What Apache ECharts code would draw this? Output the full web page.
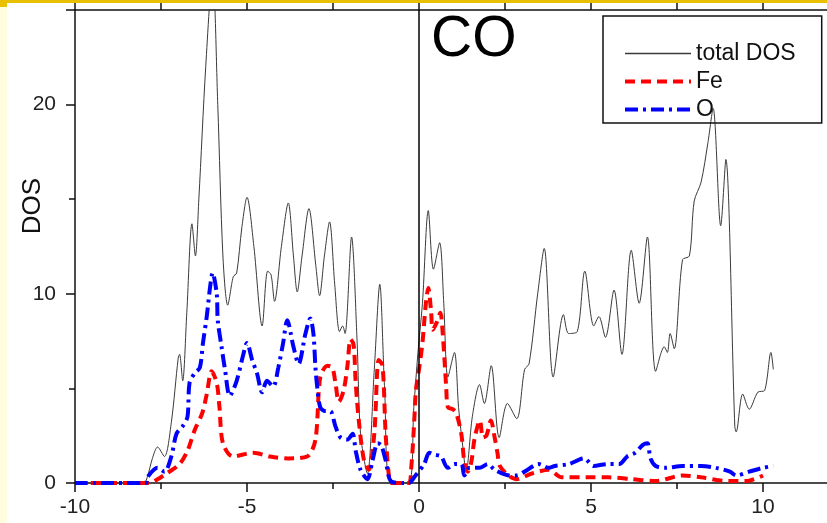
<!DOCTYPE html>
<html>
<head>
<meta charset="utf-8">
<script src="https://cdn.jsdelivr.net/npm/echarts@6/dist/echarts.min.js"></script>
<style>
html, body { margin: 0; padding: 0; background: #fff; }
#main { width: 827px; height: 523px; }
</style>
</head>
<body>
<div id="main"></div>
<script>
// energy (eV) vs DOS
const totalDos = [
    [-10, 0], [-8.0, 0], [-7.9, 0.3], [-7.75, 1.3], [-7.6, 1.9], [-7.4, 1.4], [-7.2, 3.2],
    [-7.0, 6.6], [-6.96, 6.8], [-6.87, 5.4], [-6.75, 9], [-6.6, 13.7], [-6.5, 12.0],
    [-6.4, 15], [-6.2, 22], [-6.0, 27], [-5.85, 20], [-5.7, 12], [-5.56, 9.4], [-5.4, 10.9],
    [-5.3, 11.1], [-5.15, 13.5], [-5.0, 15.1], [-4.8, 12.5], [-4.56, 8.3], [-4.4, 11.2],
    [-4.3, 11.0], [-4.2, 9.6], [-4.0, 12.5], [-3.8, 14.8], [-3.65, 12], [-3.54, 10.1],
    [-3.4, 12], [-3.2, 14.5], [-3.0, 11.5], [-2.89, 9.9], [-2.75, 12], [-2.6, 13.8],
    [-2.45, 10.5], [-2.31, 8.0], [-2.22, 8.3], [-2.15, 7.9], [-1.96, 13.0], [-1.8, 7.5],
    [-1.7, 2.6], [-1.5, 0.5], [-1.3, 6], [-1.14, 10.5], [-1.0, 5], [-0.82, 0], [-0.3, 0],
    [-0.15, 4], [-0.03, 6.9], [0.1, 9.5], [0.27, 14.4], [0.42, 11.3], [0.6, 12.7],
    [0.72, 9.5], [0.84, 5.6], [1.03, 6.9], [1.15, 4], [1.28, 1.8], [1.37, 0.6], [1.55, 3.5],
    [1.76, 5.2], [1.9, 4.2], [2.1, 6.2], [2.33, 2.4], [2.57, 4.2], [2.84, 3.4], [3.07, 6.0],
    [3.2, 6.3], [3.45, 10], [3.64, 12.4], [3.9, 5.6], [4.2, 8.9], [4.35, 7.9], [4.6, 8.0],
    [4.82, 11.2], [5.08, 8.3], [5.23, 8.8], [5.42, 7.7], [5.67, 10.2], [5.9, 6.8],
    [6.17, 12.3], [6.4, 9.5], [6.64, 13.0], [6.88, 5.9], [7.13, 7.2], [7.22, 6.9],
    [7.3, 7.9], [7.42, 7.1], [7.66, 11.8], [7.86, 12.0], [8.0, 14.9], [8.2, 15.9],
    [8.4, 18], [8.55, 19.8], [8.77, 13.6], [8.92, 17.1], [9.18, 3.0], [9.22, 2.7],
    [9.41, 4.7], [9.6, 3.9], [9.85, 4.8], [10.05, 4.9], [10.23, 6.9], [10.3, 6.0]
];
const feDos = [
    [-10, 0], [-7.85, 0], [-7.6, 0.2], [-7.34, 0.5], [-6.96, 1.0], [-6.73, 1.7], [-6.52, 2.8],
    [-6.3, 3.7], [-6.17, 4.7], [-6.03, 5.9], [-5.88, 5.3], [-5.8, 4.0], [-5.7, 2.1],
    [-5.41, 1.4], [-4.82, 1.6], [-4.33, 1.4], [-3.8, 1.3], [-3.25, 1.4], [-3.01, 2.3],
    [-2.87, 5.6], [-2.66, 6.2], [-2.52, 6.1], [-2.43, 5.3], [-2.33, 4.3], [-2.19, 4.9],
    [-2.08, 6.2], [-1.99, 7.6], [-1.9, 7.3], [-1.84, 5.3], [-1.75, 3.3], [-1.6, 1.2],
    [-1.46, 0.7], [-1.3, 2.6], [-1.17, 6.5], [-1.06, 6.2], [-0.97, 2.6], [-0.87, 0.3],
    [-0.8, 0], [-0.3, 0], [-0.23, 0.7], [-0.14, 3.2], [-0.09, 4.9], [0, 6.0], [0.1, 7.4],
    [0.2, 9.5], [0.27, 10.3], [0.35, 9.1], [0.4, 8.1], [0.52, 8.5], [0.62, 9.0], [0.69, 7.9],
    [0.79, 5.1], [0.84, 4.0], [0.98, 3.9], [1.08, 3.7], [1.23, 2.6], [1.32, 1.1], [1.42, 0.6],
    [1.52, 1.1], [1.62, 2.4], [1.77, 3.3], [1.86, 2.4], [1.96, 2.5], [2.09, 3.3], [2.2, 2.4],
    [2.28, 1.6], [2.35, 0.9], [2.6, 0.4], [2.84, 0.2], [3.28, 0.5], [3.77, 0.7], [4.15, 0.3],
    [4.94, 0.3], [5.5, 0.3], [6.2, 0.2], [6.88, 0.1], [7.66, 0.4], [8.2, 0.3], [9.0, 0.1],
    [9.5, 0.1], [10.0, 0.4]
];
const oDos = [
    [-10, 0], [-7.95, 0], [-7.9, 0.3], [-7.6, 0.8], [-7.4, 0.6], [-7.2, 1.4], [-7.05, 2.6],
    [-6.87, 3.0], [-6.73, 3.5], [-6.67, 5.3], [-6.52, 5.8], [-6.37, 6.1], [-6.28, 7.4],
    [-6.17, 8.8], [-6.07, 10.4], [-6.0, 11.1], [-5.88, 10.0], [-5.85, 8.6], [-5.74, 7.2],
    [-5.64, 6.0], [-5.5, 4.6], [-5.3, 5.4], [-5.12, 6.7], [-5.0, 7.4], [-4.85, 6.5],
    [-4.71, 5.8], [-4.56, 4.8], [-4.42, 5.4], [-4.24, 5.1], [-4.09, 6.1], [-3.95, 7.4],
    [-3.83, 8.6], [-3.65, 7.2], [-3.5, 6.3], [-3.3, 7.9], [-3.16, 8.7], [-3.07, 7.9],
    [-3.01, 6.1], [-2.96, 5.1], [-2.87, 4.0], [-2.72, 3.8], [-2.58, 3.8], [-2.43, 3.0],
    [-2.28, 2.4], [-2.08, 2.3], [-1.93, 2.6], [-1.84, 1.7], [-1.7, 0.7], [-1.5, 0.2],
    [-1.35, 1.2], [-1.2, 2.1], [-1.1, 2.0], [-0.97, 1.2], [-0.82, 0.1], [-0.5, 0], [-0.3, 0],
    [-0.1, 0.4], [0.15, 1.0], [0.3, 1.6], [0.44, 1.5], [0.64, 1.4], [0.84, 0.8], [1.03, 1.0],
    [1.23, 1.0], [1.32, 0.4], [1.47, 0.8], [1.76, 0.8], [2.0, 1.0], [2.2, 0.7], [2.64, 0.4],
    [2.84, 0.4], [3.07, 0.6], [3.48, 1.0], [3.77, 0.8], [3.95, 0.9], [4.35, 1.0], [4.8, 1.3],
    [5.08, 0.9], [5.47, 1.0], [5.82, 1.0], [6.05, 1.4], [6.29, 1.6], [6.5, 2.0], [6.64, 2.1],
    [6.73, 1.3], [6.88, 0.9], [7.16, 0.8], [7.66, 0.9], [8.2, 0.9], [8.63, 0.8], [9.04, 0.6],
    [9.22, 0.4], [9.6, 0.6], [10.0, 0.8], [10.3, 0.9]
];
const xTicks = [-10, -5, 0, 5, 10];
const yTicks = [0, 10, 20];

let myChart = echarts.init(document.getElementById('main'), null, { renderer: 'canvas' });
const font = 'Liberation Sans, Arial, sans-serif';
const axisColor = '#111';
const hideSymbol = { opacity: 0 };

let option = {
    animation: false,
    backgroundColor: '#fff',
    textStyle: { fontFamily: font },
    // the frame runs past the right edge of the picture
    grid: { left: 75, width: 774, top: 10, height: 473, outerBoundsMode: 'none' },
    legend: {
        orient: 'vertical',
        left: 603,
        top: 16,
        selectedMode: false,
        borderColor: '#111',
        borderWidth: 1.5,
        padding: [26, 26, 2, 20],
        itemWidth: 66,
        itemHeight: 20,
        itemGap: 5,
        textStyle: { fontSize: 23, color: '#111', fontFamily: font, lineHeight: 20 },
        data: [
            { name: 'total DOS', lineStyle: { width: 1.5 }, itemStyle: hideSymbol },
            { name: 'Fe', lineStyle: { width: 4 }, itemStyle: hideSymbol },
            { name: 'O', lineStyle: { width: 4 }, itemStyle: hideSymbol }
        ]
    },
    xAxis: [
        {
            type: 'value', position: 'bottom', min: -10, max: 12.5, interval: 5,
            axisLine: { onZero: false, lineStyle: { color: axisColor, width: 1.5 } },
            axisTick: { length: 9, lineStyle: { color: axisColor, width: 1.5 } },
            minorTick: { show: true, splitNumber: 2, length: 6, lineStyle: { color: axisColor, width: 1.5 } },
            axisLabel: {
                fontSize: 21, color: '#222', margin: 14,
                formatter: v => xTicks.indexOf(v) >= 0 ? String(v) : ''
            },
            splitLine: { show: false }
        },
        {
            type: 'value', position: 'top', min: -10, max: 12.5, interval: 2.5,
            axisLine: { onZero: false, lineStyle: { color: axisColor, width: 1.5 } },
            axisTick: { length: 7, lineStyle: { color: axisColor, width: 1.5 } },
            axisLabel: { show: false },
            splitLine: { show: false }
        }
    ],
    yAxis: {
        type: 'value', position: 'left', min: 0, max: 25, interval: 10,
        axisLine: { show: true, onZero: false, lineStyle: { color: axisColor, width: 1.5 } },
        axisTick: { length: 9, lineStyle: { color: axisColor, width: 1.5 } },
        minorTick: { show: true, splitNumber: 2, length: 6, lineStyle: { color: axisColor, width: 1.5 } },
        axisLabel: {
            fontSize: 21, color: '#222', margin: 19,
            formatter: v => yTicks.indexOf(v) >= 0 ? String(v) : ''
        },
        splitLine: { show: false }
    },
    graphic: [
        { type: 'rect', shape: { x: 0, y: 0, width: 7, height: 523 }, style: { fill: '#fffde0' } },
        { type: 'rect', shape: { x: 0, y: 0, width: 827, height: 3 }, style: { fill: '#e8c000' } },
        { type: 'rect', shape: { x: 0, y: 0, width: 7, height: 7 }, style: { fill: '#e8c000' } },
        {
            type: 'text', x: 431, y: 40,
            style: { text: 'CO', font: '57px ' + font, fill: '#000', verticalAlign: 'middle' }
        },
        {
            type: 'text', x: 33, y: 206, rotation: Math.PI / 2,
            style: { text: 'DOS', font: '26px ' + font, fill: '#111', align: 'center', verticalAlign: 'middle' }
        }
    ],
    series: [
        {
            name: 'total DOS',
            type: 'line',
            data: totalDos,
            smooth: 0.3,
            symbol: 'none',
            lineStyle: { color: '#3a3a3a', width: 1 },
            itemStyle: { color: '#3a3a3a' },
            markLine: {
                silent: true,
                symbol: 'none',
                label: { show: false },
                lineStyle: { color: '#000', type: 'solid', width: 1.5 },
                data: [{ xAxis: 0 }]
            }
        },
        {
            name: 'Fe',
            type: 'line',
            data: feDos,
            smooth: 0.3,
            symbol: 'none',
            lineStyle: { color: '#ff0000', width: 4, type: [10, 6] },
            itemStyle: { color: '#ff0000' }
        },
        {
            name: 'O',
            type: 'line',
            data: oDos,
            smooth: 0.3,
            symbol: 'none',
            lineStyle: { color: '#0000ff', width: 4, type: [13, 5, 3, 5] },
            itemStyle: { color: '#0000ff' }
        }
    ]
};
myChart.setOption(option);
</script>
</body>
</html>
